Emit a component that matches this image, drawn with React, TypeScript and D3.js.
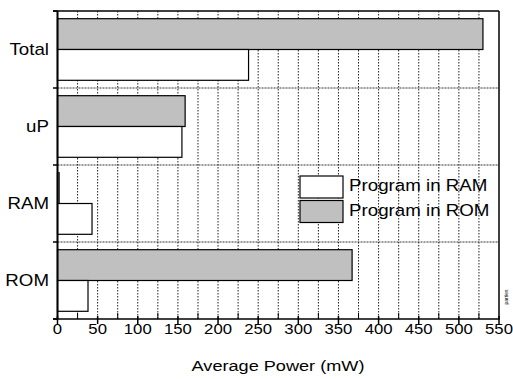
import React from "react";
import * as d3 from "d3";

const categories = ["Total", "uP", "RAM", "ROM"];
const series = ["Program in ROM", "Program in RAM"];
const romValues = [530, 159, 2, 367];
const ramValues = [238, 155, 43, 38];
const majorTicks = [0, 50, 100, 150, 200, 250, 300, 350, 400, 450, 500, 550];
const gridValues = [25, 50, 75, 100, 125, 150, 175, 200, 225, 250, 275, 300, 325, 350, 375, 400, 425, 450, 475, 500, 525];
const minorTicks = [25, 75, 125, 175, 225, 275, 325, 375, 425, 475, 525];
const legendItems = ["Program in RAM", "Program in ROM"];
const xTitle = "Average Power (mW)";

const W = 513;
const H = 379;
const left = 57.5;
const right = 499;
const top = 11;
const bottom = 319;
const font = "'Liberation Sans', Arial, sans-serif";
const grayFill = "#c0c0c0";

function SText(props: {
  x: number;
  y: number;
  size: number;
  sx: number;
  anchor?: "start" | "middle" | "end";
  dy?: string;
  children: React.ReactNode;
}) {
  const { x, y, size, sx, anchor = "start", dy, children } = props;
  return (
    <text
      transform={`translate(${x},${y}) scale(${sx},1)`}
      textAnchor={anchor}
      dy={dy}
      fontFamily={font}
      fontSize={size}
      fill="#000"
    >
      {children}
    </text>
  );
}

export default function App() {
  const x = d3.scaleLinear().domain([0, 550]).range([left, right]);
  const y = d3.scaleBand<string>().domain(categories).range([top, bottom]).paddingInner(0).paddingOuter(0);
  const inner = d3.scaleBand<string>().domain(series).range([0, y.bandwidth()]).paddingInner(0).paddingOuter(0.25);
  const colorOf = (s: string) => (s === "Program in ROM" ? grayFill : "#ffffff");
  const valuesOf = (s: string) => (s === "Program in ROM" ? romValues : ramValues);
  const boundaries = categories.map((c) => y(c) as number).concat([bottom]);

  return (
    <svg width={W} height={H} style={{ position: "absolute", left: 0, top: 0, background: "#fff" }}>
      <rect x={0} y={0} width={W} height={H} fill="#fff" />
      {gridValues.map((v) => (
        <line key={"g" + v} x1={x(v)} x2={x(v)} y1={top} y2={bottom} stroke="#222" strokeWidth={1} strokeDasharray="1.5,1.5" />
      ))}
      {boundaries.slice(1, -1).map((b, i) => (
        <line key={"h" + i} x1={left} x2={right} y1={b} y2={b} stroke="#333" strokeWidth={1} strokeDasharray="2,1" />
      ))}
      {series.map((s) =>
        categories.map((c, i) => {
          const v = valuesOf(s)[i];
          const by = (y(c) as number) + (inner(s) as number);
          return (
            <rect
              key={s + c}
              x={x(0)}
              y={by}
              width={x(v) - x(0)}
              height={inner.bandwidth()}
              fill={colorOf(s)}
              stroke="#000"
              strokeWidth={1.2}
            />
          );
        })
      )}
      <line x1={53} x2={right} y1={top} y2={top} stroke="#000" strokeWidth={1.5} />
      <line x1={right} x2={right} y1={top} y2={bottom} stroke="#000" strokeWidth={1.5} />
      <line x1={53} x2={right + 0.75} y1={bottom} y2={bottom} stroke="#000" strokeWidth={1.5} />
      <line x1={left} x2={left} y1={top} y2={bottom} stroke="#000" strokeWidth={2} />
      {boundaries.map((b, i) => (
        <line key={"lt" + i} x1={53} x2={left} y1={b} y2={b} stroke="#000" strokeWidth={1.5} />
      ))}
      {majorTicks.map((v) => (
        <line key={"mt" + v} x1={x(v)} x2={x(v)} y1={bottom - 3} y2={bottom + 5} stroke="#000" strokeWidth={1.5} />
      ))}
      {minorTicks.map((v) => (
        <line key={"nt" + v} x1={x(v)} x2={x(v)} y1={bottom - 6} y2={bottom} stroke="#000" strokeWidth={1} />
      ))}
      {majorTicks.map((v) => (
        <SText key={"tl" + v} x={x(v)} y={334} size={14.8} sx={1.13} anchor="middle">
          {v}
        </SText>
      ))}
      {categories.map((c) => (
        <SText key={"cl" + c} x={49} y={(y(c) as number) + y.bandwidth() / 2} dy="0.36em" size={16} sx={1.17} anchor="end">
          {c}
        </SText>
      ))}
      <SText x={278} y={371} size={15} sx={1.21} anchor="middle">
        {xTitle}
      </SText>
      {legendItems.map((item, i) => (
        <g key={"lg" + item} transform={`translate(300,${176 + i * 24.5})`}>
          <rect x={0} y={0} width={43} height={22} fill={item === "Program in ROM" ? grayFill : "#fff"} stroke="#000" strokeWidth={1.2} />
          <SText x={49} y={15} size={16.3} sx={1.15}>
            {item}
          </SText>
        </g>
      ))}
      <text x={508} y={297} transform="rotate(-90,508,297)" textAnchor="middle" fontFamily={font} fontSize={5} fill="#000">
        parties
      </text>
    </svg>
  );
}
